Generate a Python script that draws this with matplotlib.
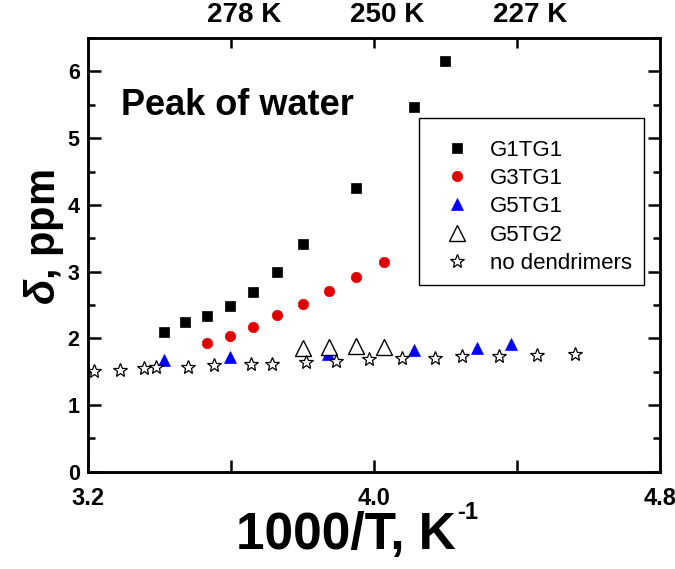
import numpy as np
import matplotlib
matplotlib.use("Agg")
import matplotlib.pyplot as plt
from matplotlib.patches import Rectangle
from matplotlib.ticker import FixedLocator, FuncFormatter, MultipleLocator
from matplotlib.transforms import ScaledTranslation

# Data (x = 1000/T in K^-1, y = delta in ppm)
g1tg1_x = [3.413, 3.471, 3.533, 3.596, 3.662, 3.730, 3.800, 3.950, 4.111, 4.198]
g1tg1_y = [2.10, 2.24, 2.33, 2.48, 2.70, 2.99, 3.41, 4.26, 5.46, 6.15]

g3tg1_x = [3.533, 3.596, 3.661, 3.730, 3.800, 3.874, 3.949, 4.029]
g3tg1_y = [1.93, 2.03, 2.17, 2.35, 2.51, 2.71, 2.92, 3.15]

g5tg1_x = [3.413, 3.596, 3.872, 4.111, 4.287, 4.382]
g5tg1_y = [1.67, 1.72, 1.76, 1.82, 1.86, 1.91]

g5tg2_x = [3.800, 3.874, 3.949, 4.029]
g5tg2_y = [1.85, 1.87, 1.88, 1.87]

nodend_x = [3.218, 3.290, 3.356, 3.389, 3.480, 3.553, 3.656, 3.714, 3.811,
            3.893, 3.987, 4.079, 4.170, 4.247, 4.351, 4.456, 4.561]
nodend_y = [1.51, 1.52, 1.55, 1.57, 1.57, 1.60, 1.61, 1.62, 1.65,
            1.66, 1.69, 1.70, 1.71, 1.73, 1.73, 1.75, 1.76]

bottom_ticks = [3.2, 3.6, 4.0, 4.4, 4.8]
bottom_labels = {3.2: "3.2", 4.0: "4.0", 4.8: "4.8"}
top_ticks = [3.6, 4.0, 4.4]
top_labels = ["278 K", "250 K", "227 K"]

plt.rcParams["font.family"] = ["Liberation Sans", "DejaVu Sans"]
plt.rcParams["mathtext.fontset"] = "custom"
plt.rcParams["mathtext.it"] = "Liberation Sans:italic:bold"
plt.rcParams["mathtext.rm"] = "Liberation Sans:bold"

fig = plt.figure(figsize=(6.75, 5.69), dpi=100)
ax = fig.add_axes([0.1304, 0.171, 0.8474, 0.762])

ax.plot(g1tg1_x, g1tg1_y, "s", color="black", ms=6.5, mew=0.5, label="G1TG1", zorder=3)
ax.plot(g3tg1_x, g3tg1_y, "o", color="#e00000", mec="#e00000", ms=7.5, mew=0.5, label="G3TG1", zorder=3)
ax.plot(g5tg1_x, g5tg1_y, "^", color="#0000ff", mec="#0000ff", ms=8, mew=0.5, label="G5TG1", zorder=3)
ax.plot(g5tg2_x, g5tg2_y, "^", mfc="white", mec="black", ms=12, mew=1.0, label="G5TG2", zorder=4)
ax.plot(nodend_x, nodend_y, "*", mfc="white", mec="black", ms=10.5, mew=0.9, label="no dendrimers", zorder=5)

ax.set_xlim(3.2, 4.8)
ax.set_ylim(0, 6.5)

for side in ax.spines.values():
    side.set_linewidth(1.8)

ax.xaxis.set_major_locator(FixedLocator(bottom_ticks))
ax.xaxis.set_major_formatter(FuncFormatter(lambda v, p: bottom_labels.get(round(v, 1), "")))
ax.yaxis.set_major_locator(MultipleLocator(1))
ax.yaxis.set_minor_locator(MultipleLocator(0.5))

ax.tick_params(axis="both", which="major", direction="in", length=9, width=1.8)
ax.tick_params(axis="both", which="minor", direction="in", length=5, width=1.8)
ax.tick_params(axis="y", which="both", right=True)
ax.tick_params(axis="x", pad=11)
ax.tick_params(axis="y", pad=6)
for lab in ax.get_xticklabels():
    lab.set_fontweight("bold")
    lab.set_fontsize(17)
for lab in ax.get_yticklabels():
    lab.set_fontweight("bold")
    lab.set_fontsize(15.5)

# top axis: temperature
ax_top = ax.twiny()
ax_top.set_xlim(ax.get_xlim())
ax_top.set_xticks(top_ticks)
ax_top.set_xticklabels(top_labels, fontweight="bold", fontsize=20)
ax_top.tick_params(axis="x", direction="in", length=7, width=1.8, pad=7)
for side in ax_top.spines.values():
    side.set_linewidth(1.8)
shift = ScaledTranslation(13 / 100, 0, fig.dpi_scale_trans)
for lab in ax_top.get_xticklabels():
    lab.set_transform(lab.get_transform() + shift)

# x label with a hyphen superscript, as in the original
xlab = fig.text(0.512, 0.035, "1000/T, K", fontweight="bold", fontsize=37,
                ha="center", va="baseline")
fig.canvas.draw()
bb = xlab.get_window_extent().transformed(fig.transFigure.inverted())
fig.text(bb.x1 + 0.002, 0.087, "-1", fontweight="bold", fontsize=17,
         ha="left", va="baseline")

ax.set_ylabel("$\\delta$, ppm", fontweight="bold", fontsize=30)
ax.yaxis.set_label_coords(-0.038, 0.541)

ax.text(0.058, 0.822, "Peak of water", transform=ax.transAxes, fontsize=26,
        fontweight="bold", ha="left", va="baseline")

leg = ax.legend(loc="upper left", bbox_to_anchor=(0.6154, 0.766), frameon=False,
                fontsize=16, borderpad=0, handlelength=1.5, handletextpad=0.75,
                labelspacing=0.33, numpoints=1, borderaxespad=0)
ax.add_patch(Rectangle((0.579, 0.4305), 0.393, 0.385, transform=ax.transAxes,
                       fill=False, lw=1.0, ec="black", zorder=6))

fig.savefig("out.png", dpi=100)
